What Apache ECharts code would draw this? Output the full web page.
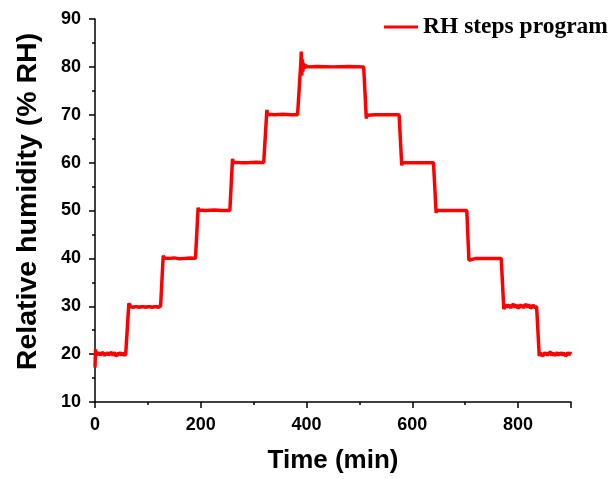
<!DOCTYPE html>
<html>
<head>
<meta charset="utf-8">
<script src="https://cdn.jsdelivr.net/npm/echarts@6/dist/echarts.min.js"></script>
<style>
  html, body { margin: 0; padding: 0; background: #fff; }
  #chart { width: 609px; height: 479px; }
</style>
</head>
<body>
<div id="chart"></div>
<script>
// Humidity program: time (min) and relative humidity (% RH) readings
const seriesName = 'RH steps program';
const timeMin = [
  0, 1,
  2, 4, 6, 8, 10, 12, 14, 16, 18, 20, 22, 24, 26, 28, 30,
  32, 34, 36, 38, 40, 42, 44, 46, 48, 50, 52, 54, 56, 58,
  64, 66, 68, 70, 72, 74, 76, 78, 80, 82, 84, 86, 88, 90, 92,
  94, 96, 98, 100, 102, 104, 106, 108, 110, 112, 114, 116, 118, 120, 122, 124,
  129, 130, 140, 150, 160, 170, 180, 190,
  195, 196, 210, 225, 240, 255,
  260, 261, 275, 290, 305, 319,
  325, 326, 340, 355, 370, 383,
  389, 390, 391, 392, 393, 394, 396, 398, 402, 420, 450, 480, 508,
  513, 514, 530, 550, 575,
  580, 581, 600, 620, 640,
  645, 646, 660, 680, 703,
  707, 708, 720, 740, 755, 768,
  773, 776, 778, 780, 782, 784, 786, 788, 790, 792, 794, 796, 798, 800, 802,
  804, 806, 808, 810, 812, 814, 816, 818, 820, 822, 824, 826, 828, 830, 832, 835,
  840, 842, 844, 846, 848, 850, 852, 854, 856, 858, 860, 862, 864, 866, 868,
  870, 872, 874, 876, 878, 880, 882, 884, 886, 888, 890, 892, 894, 896, 898, 900
];
const rhValue = [
  17.2, 21.0,
  19.7, 20.3, 19.8, 20.4, 19.7, 20.2, 19.8, 20.3, 19.6, 20.3, 19.8, 20.4, 19.7, 20.2, 19.9,
  20.3, 19.7, 20.4, 19.8, 20.2, 19.7, 20.3, 19.8, 20.4, 19.7, 20.3, 19.8, 20.2, 19.9,
  30.6, 30.2, 29.9, 30.1, 29.8, 30.2, 29.9, 30.1, 29.9, 30.2, 29.8, 30.1, 29.9, 30.2, 29.9,
  30.1, 29.8, 30.2, 29.9, 30.1, 29.9, 30.2, 29.8, 30.1, 29.9, 30.2, 29.9, 30.1, 29.8, 30.1, 30.0,
  40.6, 40.1, 40.0, 40.1, 39.9, 40.0, 40.1, 40.0,
  50.6, 50.1, 50.0, 50.1, 50.0, 50.0,
  60.8, 60.1, 60.0, 60.0, 60.1, 60.0,
  71.0, 70.1, 70.0, 70.1, 70.0, 70.0,
  80.5, 83.2, 78.2, 81.6, 79.0, 80.8, 79.7, 80.3, 80.0, 80.1, 80.0, 80.1, 80.0,
  69.2, 69.9, 70.0, 70.0, 70.0,
  59.4, 60.0, 60.0, 60.0, 60.0,
  49.5, 50.0, 50.0, 50.0, 50.0,
  39.6, 40.0, 40.0, 40.0, 40.0, 40.0,
  29.4, 30.3, 29.7, 30.4, 29.8, 30.3, 29.6, 30.2, 29.8, 30.4, 29.7, 30.3, 29.8, 30.2, 29.7,
  30.4, 29.8, 30.3, 29.6, 30.2, 29.8, 30.3, 29.7, 30.4, 29.8, 30.2, 29.7, 30.3, 29.8, 30.2, 29.9,
  19.6, 20.3, 19.8, 20.2, 19.7, 20.4, 19.8, 20.3, 19.7, 20.2, 19.8, 20.4, 19.7, 20.3, 19.8,
  20.2, 19.9, 20.4, 19.7, 20.3, 19.8, 20.4, 19.7, 20.3, 19.8, 20.2, 19.7, 20.4, 19.8, 20.3, 20.0
];
const xTicks = { min: 0, max: 900, step: 200 };
const yTicks = { min: 10, max: 90, step: 10 };

const points = timeMin.map((t, i) => [t, rhValue[i]]);

const chart = echarts.init(document.getElementById('chart'), null, { renderer: 'canvas' });

const axisFont = {
  fontFamily: 'Arial, "Liberation Sans", sans-serif',
  fontWeight: 'bold',
  color: '#000'
};

chart.setOption({
  animation: false,
  backgroundColor: '#fff',
  grid: { left: 95, right: 38, top: 19, bottom: 75 },
  legend: {
    data: [seriesName],
    left: 379,
    top: 10,
    icon: 'rect',
    itemWidth: 34,
    itemHeight: 3,
    itemGap: 0,
    textStyle: {
      fontFamily: '"Liberation Serif", "Times New Roman", serif',
      fontWeight: 'bold',
      fontSize: 23.5,
      color: '#000'
    }
  },
  xAxis: {
    type: 'value',
    min: xTicks.min,
    max: xTicks.max,
    interval: xTicks.step,
    name: 'Time (min)',
    nameLocation: 'middle',
    nameGap: 46,
    nameTextStyle: Object.assign({ fontSize: 26 }, axisFont),
    axisLine: { lineStyle: { color: '#000', width: 1.5 } },
    axisTick: { inside: false, length: 6, lineStyle: { color: '#000', width: 1.5 } },
    minorTick: { show: true, splitNumber: 2, length: 3, lineStyle: { color: '#000', width: 1.5 } },
    axisLabel: Object.assign({ fontSize: 18, margin: 14, showMaxLabel: false }, axisFont),
    splitLine: { show: false }
  },
  yAxis: {
    type: 'value',
    min: yTicks.min,
    max: yTicks.max,
    interval: yTicks.step,
    name: 'Relative humidity (% RH)',
    nameLocation: 'middle',
    nameGap: 52,
    nameRotate: 90,
    nameTextStyle: Object.assign({ fontSize: 28.5, padding: [0, 0, 0, 18] }, axisFont),
    axisLine: { show: true, lineStyle: { color: '#000', width: 1.5 } },
    axisTick: { show: true, inside: false, length: 6, lineStyle: { color: '#000', width: 1.5 } },
    minorTick: { show: true, splitNumber: 2, length: 3, lineStyle: { color: '#000', width: 1.5 } },
    axisLabel: Object.assign({ fontSize: 18, margin: 14 }, axisFont),
    splitLine: { show: false }
  },
  series: [{
    name: seriesName,
    type: 'line',
    data: points,
    showSymbol: false,
    symbol: 'none',
    lineStyle: { color: '#ff0000', width: 3.5 },
    itemStyle: { color: '#ff0000' }
  }]
});
</script>
</body>
</html>
